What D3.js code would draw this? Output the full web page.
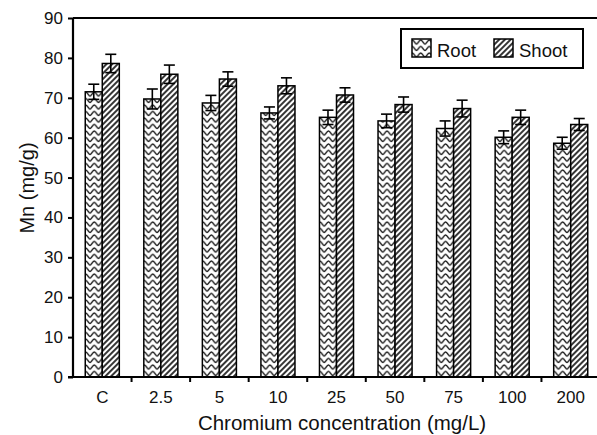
<!DOCTYPE html>
<html>
<head>
<meta charset="utf-8">
<script src="https://cdn.jsdelivr.net/npm/d3@7"></script>
<style>
  body { margin: 0; background: #fff; }
  svg { display: block; font-family: "Liberation Sans", Arial, sans-serif; }
</style>
</head>
<body>
<div id="chart"></div>
<script>
// data
const categories = ['C', '2.5', '5', '10', '25', '50', '75', '100', '200'];
const rootValues = [71.5, 69.7, 68.7, 66.2, 65.1, 64.2, 62.3, 60.1, 58.6];
const rootErrors = [1.9, 2.5, 1.9, 1.5, 1.8, 1.7, 1.9, 1.6, 1.5];
const shootValues = [78.6, 75.9, 74.7, 73.0, 70.7, 68.3, 67.3, 65.1, 63.3];
const shootErrors = [2.3, 2.3, 1.8, 2.0, 1.8, 1.9, 2.1, 1.8, 1.5];
const seriesNames = ['Root', 'Shoot'];
const yTicks = [0, 10, 20, 30, 40, 50, 60, 70, 80, 90];

const width = 597, height = 435;
const plotLeft = 73, plotTop = 18, plotBottom = 377, plotRight = 600;

const svg = d3.select('#chart')
  .append('svg')
  .attr('width', width)
  .attr('height', height);

const defs = svg.append('defs');

// wavy pattern for root
const wave = defs.append('pattern')
  .attr('id', 'pat-root')
  .attr('patternUnits', 'userSpaceOnUse')
  .attr('width', 8.5)
  .attr('height', 6.5);
wave.append('rect').attr('width', 8.5).attr('height', 6.5).attr('fill', '#fff');
wave.append('path')
  .attr('d', 'M0,5 C1.5,5 2.5,1 4.25,1 C6,1 7,5 8.5,5')
  .attr('fill', 'none')
  .attr('stroke', '#111')
  .attr('stroke-width', 1.4);

// diagonal hatch for shoot
const hatch = defs.append('pattern')
  .attr('id', 'pat-shoot')
  .attr('patternUnits', 'userSpaceOnUse')
  .attr('width', 4)
  .attr('height', 4)
  .attr('patternTransform', 'rotate(45)');
hatch.append('rect').attr('width', 4).attr('height', 4).attr('fill', '#fff');
hatch.append('line')
  .attr('x1', 1).attr('y1', 0).attr('x2', 1).attr('y2', 4)
  .attr('stroke', '#111')
  .attr('stroke-width', 1.7);

const fills = { Root: 'url(#pat-root)', Shoot: 'url(#pat-shoot)' };

const x = d3.scaleBand()
  .domain(categories)
  .range([plotLeft, plotRight]);

const xSub = d3.scaleBand()
  .domain(seriesNames)
  .range([0, x.bandwidth()])
  .paddingOuter(0.72);

const y = d3.scaleLinear()
  .domain([0, 90])
  .range([plotBottom, plotTop]);

const rows = categories.map((c, i) => ({
  cat: c,
  bars: [
    { name: 'Root', value: rootValues[i], err: rootErrors[i] },
    { name: 'Shoot', value: shootValues[i], err: shootErrors[i] }
  ]
}));

const groups = svg.append('g')
  .selectAll('g')
  .data(rows)
  .join('g')
  .attr('transform', d => `translate(${x(d.cat)},0)`);

groups.selectAll('rect')
  .data(d => d.bars)
  .join('rect')
  .attr('x', d => xSub(d.name))
  .attr('y', d => y(d.value))
  .attr('width', xSub.bandwidth())
  .attr('height', d => y(0) - y(d.value))
  .attr('fill', d => fills[d.name])
  .attr('stroke', '#000')
  .attr('stroke-width', 1.5);

// error bars
const capW = 11;
const eb = groups.selectAll('g.err')
  .data(d => d.bars)
  .join('g')
  .attr('class', 'err')
  .attr('stroke', '#000')
  .attr('stroke-width', 1.6);

eb.append('line')
  .attr('x1', d => xSub(d.name) + xSub.bandwidth() / 2)
  .attr('x2', d => xSub(d.name) + xSub.bandwidth() / 2)
  .attr('y1', d => y(d.value - d.err))
  .attr('y2', d => y(d.value + d.err));
eb.append('line')
  .attr('x1', d => xSub(d.name) + xSub.bandwidth() / 2 - capW / 2)
  .attr('x2', d => xSub(d.name) + xSub.bandwidth() / 2 + capW / 2)
  .attr('y1', d => y(d.value + d.err))
  .attr('y2', d => y(d.value + d.err));
eb.append('line')
  .attr('x1', d => xSub(d.name) + xSub.bandwidth() / 2 - capW / 2)
  .attr('x2', d => xSub(d.name) + xSub.bandwidth() / 2 + capW / 2)
  .attr('y1', d => y(d.value - d.err))
  .attr('y2', d => y(d.value - d.err));

// y axis
const yAxis = svg.append('g')
  .attr('transform', `translate(${plotLeft},0)`)
  .call(d3.axisLeft(y).tickValues(yTicks).tickSize(5).tickPadding(5));
yAxis.select('.domain').attr('stroke', '#000').attr('stroke-width', 2.2)
  .attr('d', `M0,${plotTop}V${plotBottom + 1}`);
yAxis.selectAll('.tick line').attr('stroke', '#000').attr('stroke-width', 2);
yAxis.selectAll('.tick text')
  .attr('font-size', 17)
  .attr('font-family', '"Liberation Sans", Arial, sans-serif')
  .attr('fill', '#111');

// x axis: labels at band centres, ticks at band edges
svg.append('line')
  .attr('x1', plotLeft - 5).attr('x2', plotRight)
  .attr('y1', plotBottom).attr('y2', plotBottom)
  .attr('stroke', '#000').attr('stroke-width', 2.2);

svg.append('g')
  .selectAll('line')
  .data(categories.slice(1))
  .join('line')
  .attr('x1', d => x(d)).attr('x2', d => x(d))
  .attr('y1', plotBottom).attr('y2', plotBottom + 5)
  .attr('stroke', '#000').attr('stroke-width', 2);

svg.append('g')
  .selectAll('text')
  .data(categories)
  .join('text')
  .attr('x', d => x(d) + x.bandwidth() / 2)
  .attr('y', 403)
  .attr('text-anchor', 'middle')
  .attr('font-size', 17)
  .attr('fill', '#111')
  .text(d => d);

// top frame line
svg.append('line')
  .attr('x1', plotLeft).attr('x2', plotRight)
  .attr('y1', plotTop).attr('y2', plotTop)
  .attr('stroke', '#000').attr('stroke-width', 2);

// axis titles
svg.append('text')
  .attr('x', 342)
  .attr('y', 430)
  .attr('text-anchor', 'middle')
  .attr('font-size', 20.5)
  .attr('fill', '#111')
  .text('Chromium concentration (mg/L)');

svg.append('text')
  .attr('transform', 'translate(34,188) rotate(-90)')
  .attr('text-anchor', 'middle')
  .attr('font-size', 20)
  .attr('fill', '#111')
  .text('Mn (mg/g)');

// legend
const legend = svg.append('g');
legend.append('rect')
  .attr('x', 401).attr('y', 29)
  .attr('width', 182).attr('height', 39)
  .attr('fill', '#fff')
  .attr('stroke', '#000')
  .attr('stroke-width', 2);

const legendX = [412, 494];
seriesNames.forEach((name, i) => {
  legend.append('rect')
    .attr('x', legendX[i]).attr('y', 39)
    .attr('width', 19).attr('height', 18)
    .attr('fill', fills[name])
    .attr('stroke', '#000')
    .attr('stroke-width', 1.5);
  legend.append('text')
    .attr('x', legendX[i] + 25)
    .attr('y', 57)
    .attr('font-size', 18.5)
    .attr('fill', '#111')
    .text(name);
});
</script>
</body>
</html>
